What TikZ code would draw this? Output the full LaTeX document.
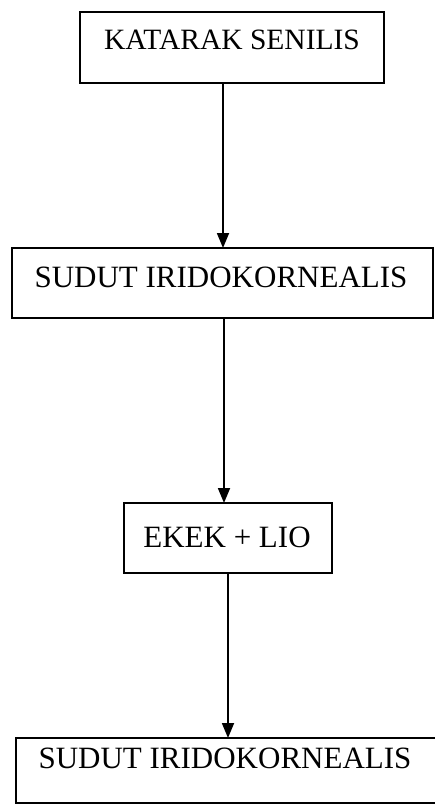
\documentclass[tikz,border=0pt]{standalone}
\usepackage{fontspec}
\setmainfont{Liberation Serif}
\usetikzlibrary{arrows.meta}
\begin{document}
\begin{tikzpicture}[x=1pt,y=-1pt,
  boxline/.style={draw=black,line width=1.8pt},
  label/.style={font=\fontsize{31}{31}\selectfont,anchor=base,inner sep=0pt},
  flow/.style={line width=1.8pt,-{Triangle[width=12pt,length=15pt]}}]
\useasboundingbox (0,0) rectangle (434,805);
% boxes
\draw[boxline] (80,12) rectangle (384,83);
\draw[boxline] (12,248) rectangle (433,318);
\draw[boxline] (124,503) rectangle (332,573);
\draw[boxline] (16,738) rectangle (445,803);
% connector end points on the box edges
\coordinate (b1s) at (223,83);
\coordinate (b2n) at (223,248);
\coordinate (b2s) at (224,318);
\coordinate (b3n) at (224,503);
\coordinate (b3s) at (228,573);
\coordinate (b4n) at (228,738);
% texts
\node[label,font=\fontsize{29.5}{30}\selectfont] (t1) at (232,50) {KATARAK SENILIS};
\node[label] (t2) at (221,287) {SUDUT IRIDOKORNEALIS};
\node[label] (t3) at (227,547) {EKEK + LIO};
\node[label] (t4) at (225,768) {SUDUT IRIDOKORNEALIS};
% connectors
\draw[flow] (b1s) -- (b2n);
\draw[flow] (b2s) -- (b3n);
\draw[flow] (b3s) -- (b4n);
\end{tikzpicture}
\end{document}
